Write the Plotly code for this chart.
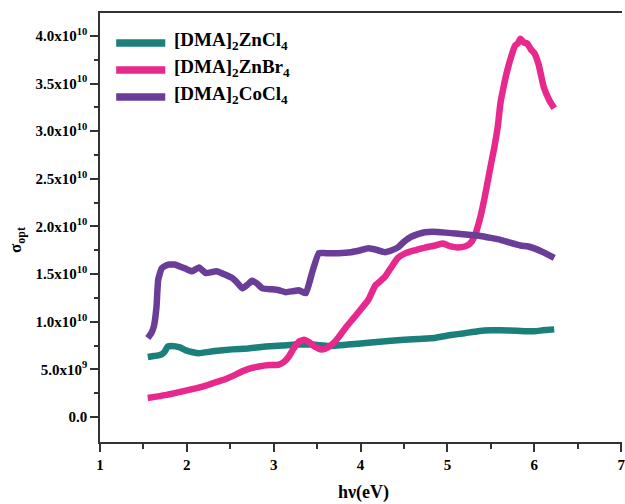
import plotly.graph_objects as go

# ---------------- data (sigma_opt in units of 1e10) ----------------
zncl_x = [1.55, 1.62, 1.69, 1.74, 1.78, 1.82, 1.92, 1.99, 2.07, 2.14, 2.3, 2.52, 2.7, 2.91, 3.1, 3.25,
          3.45, 3.63, 3.85, 4.09, 4.35, 4.66, 4.85, 5.04, 5.2, 5.35, 5.5, 5.61, 5.8, 6.0, 6.1, 6.23]
zncl_y = [0.63, 0.64, 0.65, 0.68, 0.74, 0.745, 0.73, 0.70, 0.68, 0.67, 0.69, 0.71, 0.72, 0.74, 0.75, 0.76,
          0.76, 0.745, 0.76, 0.78, 0.80, 0.82, 0.83, 0.86, 0.88, 0.90, 0.91, 0.91, 0.905, 0.90, 0.91, 0.92]

znbr_x = [1.55, 1.75, 1.95, 2.1, 2.22, 2.35, 2.45, 2.55, 2.64, 2.73, 2.83, 2.95, 3.06, 3.12, 3.17, 3.23,
          3.29, 3.35, 3.40, 3.47, 3.54, 3.60, 3.67, 3.75, 3.83, 3.94, 4.09, 4.17, 4.28, 4.36, 4.43, 4.52,
          4.63, 4.75, 4.86, 4.95, 5.04, 5.12, 5.20, 5.26, 5.31, 5.38, 5.43, 5.49, 5.54, 5.58, 5.61, 5.65,
          5.69, 5.74, 5.78, 5.81, 5.84, 5.88, 5.92, 5.96, 6.0, 6.05, 6.11, 6.17, 6.23]
znbr_y = [0.20, 0.23, 0.27, 0.30, 0.33, 0.37, 0.40, 0.44, 0.48, 0.51, 0.53, 0.545, 0.55, 0.58, 0.63, 0.72,
          0.79, 0.81, 0.79, 0.74, 0.71, 0.72, 0.76, 0.84, 0.94, 1.06, 1.23, 1.38, 1.47, 1.58, 1.67, 1.72,
          1.75, 1.78, 1.80, 1.82, 1.79, 1.78, 1.79, 1.82, 1.89, 2.10, 2.31, 2.6, 2.83, 3.05, 3.29, 3.48,
          3.64, 3.8, 3.9, 3.92, 3.97, 3.93, 3.92, 3.86, 3.82, 3.7, 3.46, 3.33, 3.24]

cocl_x = [1.55, 1.59, 1.62, 1.65, 1.67, 1.71, 1.76, 1.80, 1.86, 1.92, 2.0, 2.06, 2.14, 2.22, 2.34, 2.45,
          2.52, 2.57, 2.64, 2.70, 2.75, 2.81, 2.87, 2.98, 3.06, 3.14, 3.22, 3.29, 3.37, 3.44, 3.52, 3.6,
          3.75, 3.89, 4.0, 4.09, 4.2, 4.28, 4.36, 4.43, 4.5, 4.58, 4.66, 4.74, 4.83, 4.92, 5.04, 5.15,
          5.27, 5.38, 5.5, 5.61, 5.72, 5.84, 5.93, 6.0, 6.1, 6.23]
cocl_y = [0.83, 0.88, 0.95, 1.15, 1.44, 1.56, 1.59, 1.60, 1.60, 1.58, 1.55, 1.53, 1.57, 1.51, 1.53, 1.49,
          1.46, 1.42, 1.35, 1.39, 1.43, 1.40, 1.35, 1.34, 1.33, 1.31, 1.32, 1.33, 1.30, 1.51, 1.72, 1.72,
          1.72, 1.73, 1.75, 1.77, 1.75, 1.73, 1.75, 1.78, 1.84, 1.89, 1.92, 1.94, 1.945, 1.94, 1.93, 1.92,
          1.91, 1.90, 1.88, 1.86, 1.83, 1.80, 1.79, 1.77, 1.73, 1.67]

series_names = ["[DMA]<sub>2</sub>ZnCl<sub>4</sub>", "[DMA]<sub>2</sub>ZnBr<sub>4</sub>", "[DMA]<sub>2</sub>CoCl<sub>4</sub>"]
series_colors = ["#1b807b", "#e7288c", "#6a3d98"]

y_tickvals = [0, 0.5e10, 1.0e10, 1.5e10, 2.0e10, 2.5e10, 3.0e10, 3.5e10, 4.0e10]
y_ticktext = ["0.0", "5.0x10<sup>9</sup>", "1.0x10<sup>10</sup>", "1.5x10<sup>10</sup>", "2.0x10<sup>10</sup>",
              "2.5x10<sup>10</sup>", "3.0x10<sup>10</sup>", "3.5x10<sup>10</sup>", "4.0x10<sup>10</sup>"]
y_minor = [0.25e10, 0.75e10, 1.25e10, 1.75e10, 2.25e10, 2.75e10, 3.25e10, 3.75e10, 4.25e10]
x_tickvals = [1, 2, 3, 4, 5, 6, 7]
x_minor = [1.5, 2.5, 3.5, 4.5, 5.5, 6.5]

FONT = "Liberation Serif, Times New Roman, serif"

fig = go.Figure()
all_x = [zncl_x, znbr_x, cocl_x]
all_y = [zncl_y, znbr_y, cocl_y]
for xs, ys, name, col in zip(all_x, all_y, series_names, series_colors):
    fig.add_trace(go.Scatter(x=xs, y=[v * 1e10 for v in ys], mode="lines", name=name,
                             line=dict(color=col, width=6.5, shape="spline", smoothing=0.4),
                             showlegend=False))

# manual legend (long sample lines as in the reference)
leg_y = [0.930, 0.867, 0.804]
for ly, name, col in zip(leg_y, series_names, series_colors):
    fig.add_shape(type="line", xref="paper", yref="paper", x0=0.031, x1=0.125, y0=ly, y1=ly,
                  line=dict(color=col, width=7.5))
    fig.add_annotation(xref="paper", yref="paper", x=0.137, y=ly + 0.004, xanchor="left", yanchor="middle",
                       text=name, showarrow=False,
                       font=dict(family=FONT, size=19, color="black", weight="bold"))

# axis titles
fig.add_annotation(xref="paper", yref="paper", x=0.505, y=-0.117, xanchor="center", yanchor="middle",
                   text="hν(eV)", showarrow=False,
                   font=dict(family=FONT, size=18, color="black", weight="bold"))
fig.add_annotation(xref="paper", yref="paper", x=-0.158, y=0.47, xanchor="center", yanchor="middle",
                   text="σ<sub>opt</sub>", textangle=-90, showarrow=False,
                   font=dict(family=FONT, size=17, color="black", weight="bold"))

fig.update_layout(
    width=625, height=504,
    margin=dict(l=100, r=0, t=13, b=62),
    paper_bgcolor="white", plot_bgcolor="white",
    font=dict(family=FONT, color="black"),
)
fig.update_xaxes(
    range=[1, 7.01], showgrid=False, zeroline=False,
    showline=True, linecolor="#333", linewidth=1.5, mirror=True,
    ticks="outside", ticklen=8, tickwidth=1.5, tickcolor="#333",
    tickmode="array", tickvals=x_tickvals, ticktext=[str(v) for v in x_tickvals],
    ticklabeloverflow="allow",
    tickfont=dict(family=FONT, size=15, color="black", weight="bold"),
    minor=dict(tickmode="array", tickvals=x_minor, ticks="outside", ticklen=5, tickwidth=1.5, tickcolor="#333"),
)
fig.update_yaxes(
    range=[-0.262e10, 4.24e10], showgrid=False, zeroline=False,
    showline=True, linecolor="#333", linewidth=1.5, mirror=False,
    ticks="outside", ticklen=8, tickwidth=1.5, tickcolor="#333",
    tickmode="array", tickvals=y_tickvals, ticktext=y_ticktext,
    tickfont=dict(family=FONT, size=15, color="black", weight="bold"),
    minor=dict(tickmode="array", tickvals=y_minor, ticks="outside", ticklen=4, tickwidth=1.5, tickcolor="#333"),
)

fig.write_html("out.html", config={"displayModeBar": False},
               post_script="document.body.style.margin='0px';document.body.style.overflow='hidden';")
